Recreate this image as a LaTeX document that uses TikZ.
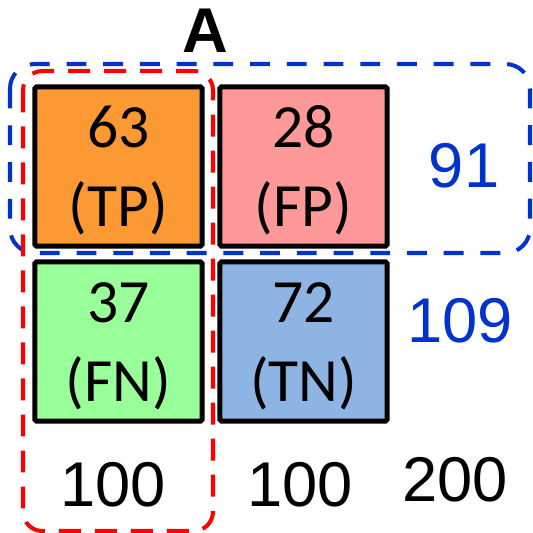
\documentclass[tikz,border=0pt]{standalone}
\usepackage{fontspec}
\setmainfont{Liberation Sans}
\newfontfamily\cellfont{Carlito}

\definecolor{tpcol}{RGB}{253,153,51}
\definecolor{fpcol}{RGB}{255,153,153}
\definecolor{fncol}{RGB}{153,255,153}
\definecolor{tncol}{RGB}{142,180,227}
\definecolor{sumblue}{RGB}{0,51,204}
\definecolor{sumred}{RGB}{255,0,0}

% count over its class, strut pushes the two lines down a bit
\newcommand{\celltxt}[2]{\rule{0pt}{28pt}#1\\(#2)}

\tikzset{
  cell/.style={draw=black, line width=2.8pt, rounded corners=1pt, minimum width=168*0.5669pt,
    minimum height=160*0.5669pt, inner sep=0pt, align=center,
    font=\cellfont\fontsize{35}{45}\selectfont},
  total/.style={inner sep=0pt, font=\fontsize{36}{40}\selectfont}
}

\begin{document}
\begin{tikzpicture}[x=0.02cm, y=-0.02cm]
%\draw [lightgray](0,0) grid[step=50] (533,532);
\useasboundingbox (0,0) rectangle (533,532);

\node [total, font=\bfseries\fontsize{36}{40}\selectfont] (colA) at (205,31) {A};

\node [cell, fill=tpcol] (tp) at (118.5,166.5) {\celltxt{63}{TP}};
\node [cell, fill=fpcol] (fp) at (303.5,166.5) {\celltxt{28}{FP}};
\node [cell, fill=fncol] (fn) at (118.5,341.5) {\celltxt{37}{FN}};
\node [cell, fill=tncol] (tn) at (303.5,341.5) {\celltxt{72}{TN}};

\draw [sumblue, line width=2.3pt, dash pattern=on 11.3pt off 9.6pt, rounded corners=14pt]
  (10,64) rectangle (530,253);
\draw [sumred, line width=2.3pt, dash pattern=on 12.5pt off 8pt, rounded corners=11pt]
  (23,71) rectangle (213,531);

\node [total, text=sumblue] (rowP) at (464,166) {91};
\node [total, text=sumblue] (rowN) at (460,321) {109};

\node [total] (colP) at (113,485) {100};
\node [total] (colN) at (300,485) {100};
\node [total] (all) at (455,480) {200};

\end{tikzpicture}
\end{document}
